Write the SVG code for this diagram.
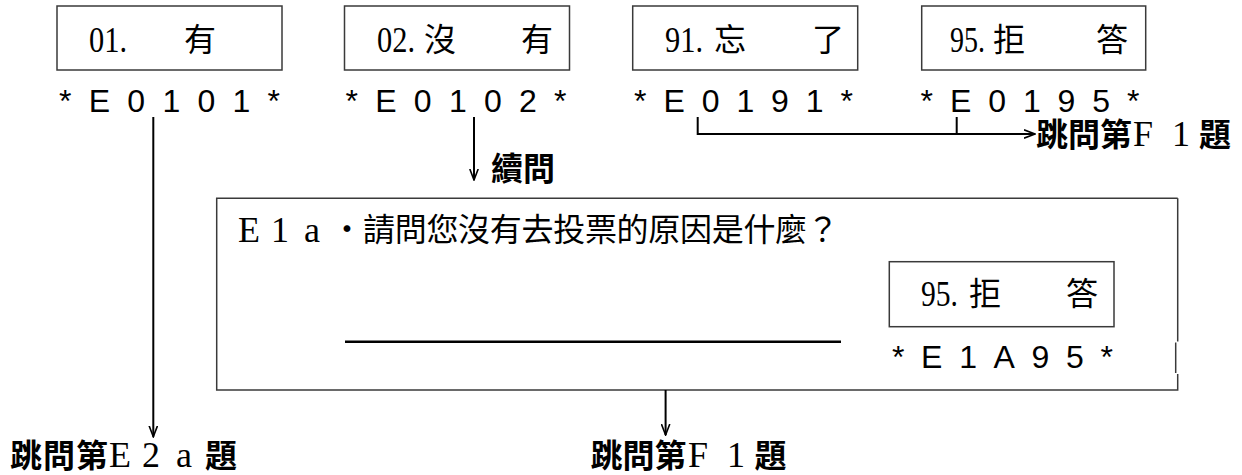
<svg xmlns="http://www.w3.org/2000/svg" width="1242" height="475" viewBox="0 0 1242 475">
<defs>
<style>
.box{fill:#fff;stroke:#3a3a3a;stroke-width:1.5}
.opt{font-family:"Noto Sans CJK TC","Liberation Serif",sans-serif;font-size:32px;fill:#000}
.num{font-family:"Liberation Serif",serif;font-size:36px;fill:#000}
.code{font-family:"Liberation Sans","DejaVu Sans",sans-serif;font-size:32px;fill:#000}
.lbl{font-family:"Liberation Serif","Noto Sans CJK TC",serif;font-size:32px;font-weight:700;fill:#000}
.lat{font-family:"Liberation Serif",serif;font-size:36px;font-weight:400}
.con{fill:none;stroke:#000;stroke-width:2}
</style>
<marker id="arr" viewBox="0 0 12 10" markerWidth="12" markerHeight="10" refX="11" refY="5" orient="auto" markerUnits="userSpaceOnUse">
<path d="M0,0.8 L11,5 L0,9.2" fill="none" stroke="#000" stroke-width="1.6"/>
</marker>
</defs>
<rect width="1242" height="475" fill="#fff"/>

<g id="opt01">
<rect class="box" x="57" y="6" width="225" height="64"/>
<text class="num" x="89" y="52" textLength="38" lengthAdjust="spacingAndGlyphs">01.</text>
<text class="opt" x="184" y="51">有</text>
<text class="code" x="59" y="112" textLength="221" lengthAdjust="spacing">*E0101*</text>
</g>

<g id="opt02">
<rect class="box" x="344.5" y="6" width="225" height="64"/>
<text class="num" x="377" y="52" textLength="38" lengthAdjust="spacingAndGlyphs">02.</text>
<text class="opt" x="424" y="51">沒</text>
<text class="opt" x="521" y="51">有</text>
<text class="code" x="345.5" y="112" textLength="221" lengthAdjust="spacing">*E0102*</text>
</g>

<g id="opt91">
<rect class="box" x="632.7" y="6" width="225" height="64"/>
<text class="num" x="665" y="52" textLength="38" lengthAdjust="spacingAndGlyphs">91.</text>
<text class="opt" x="714" y="51">忘</text>
<text class="opt" x="812" y="51">了</text>
<text class="code" x="634" y="112" textLength="219" lengthAdjust="spacing">*E0191*</text>
</g>

<g id="opt95">
<rect class="box" x="921.7" y="6" width="224" height="64"/>
<text class="num" x="950" y="52" font-size="34" textLength="35" lengthAdjust="spacingAndGlyphs">95.</text>
<text class="opt" x="993" y="51">拒</text>
<text class="opt" x="1096" y="51">答</text>
<text class="code" x="920.5" y="112" textLength="219" lengthAdjust="spacing">*E0195*</text>
</g>

<g id="q_e1a">
<path class="box" d="M1177.7,198.3 H216.7 V390 H1177.7 V374 M1177.7,341.5 V198.3" />
<path d="M1175.7,342.5 V373" fill="none" stroke="#3a3a3a" stroke-width="1.5"/>
<text class="num" y="242"><tspan x="238">E</tspan><tspan x="271">1</tspan><tspan x="304">a</tspan></text>
<text class="opt" y="241"><tspan x="331">・</tspan><tspan x="363" letter-spacing="-0.3">請問您沒有去投票的原因是什麼？</tspan></text>
<line x1="345" y1="341.7" x2="841" y2="341.7" stroke="#000" stroke-width="2.5"/>
<g id="q_e1a_95">
<rect class="box" x="889.3" y="261.7" width="224.7" height="65"/>
<text class="num" x="921" y="306" textLength="37" lengthAdjust="spacingAndGlyphs">95.</text>
<text class="opt" x="969" y="305">拒</text>
<text class="opt" x="1066" y="305">答</text>
<text class="code" x="892" y="368" textLength="221" lengthAdjust="spacing">*E1A95*</text>
</g>
</g>

<g id="connectors">
<line class="con" x1="153.3" y1="117" x2="153.3" y2="436.7" marker-end="url(#arr)"/>
<line class="con" x1="474" y1="117" x2="474" y2="180" marker-end="url(#arr)"/>
<path class="con" d="M697.7,117 V134 H1035" marker-end="url(#arr)"/>
<line class="con" x1="956.7" y1="117" x2="956.7" y2="134"/>
<line class="con" x1="665.6" y1="390" x2="665.6" y2="435" marker-end="url(#arr)"/>
</g>

<g id="lbl_continue">
<text class="lbl" x="491" y="180" font-size="30">續問</text>
</g>
<g id="lbl_skip_f1_top">
<text class="lbl" y="146" font-size="31"><tspan x="1036">跳問第</tspan><tspan class="lat" font-size="34" x="1133">F</tspan><tspan class="lat" font-size="34" x="1172">1</tspan><tspan x="1199">題</tspan></text>
</g>
<g id="lbl_skip_e2a">
<text class="lbl" y="467"><tspan x="10" letter-spacing="1">跳問第</tspan><tspan class="lat" x="109">E</tspan><tspan class="lat" x="142">2</tspan><tspan class="lat" x="176">a</tspan><tspan x="205">題</tspan></text>
</g>
<g id="lbl_skip_f1_bottom">
<text class="lbl" y="467"><tspan x="590.5">跳問第</tspan><tspan class="lat" x="688">F</tspan><tspan class="lat" x="727">1</tspan><tspan x="754.5">題</tspan></text>
</g>
</svg>
